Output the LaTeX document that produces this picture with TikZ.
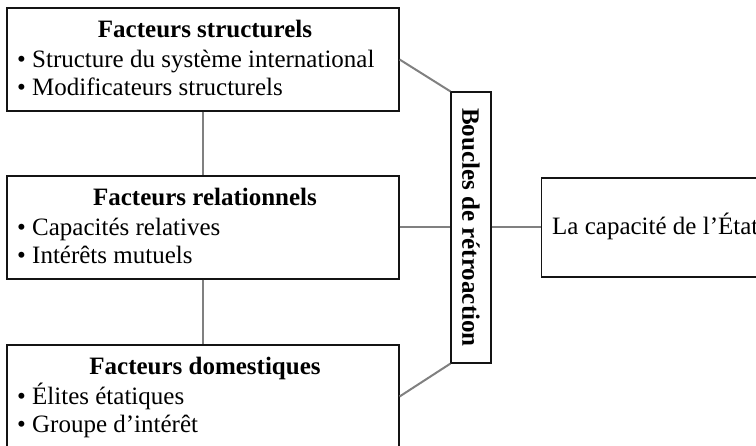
\documentclass[tikz,border=0pt]{standalone}
\usepackage{fontspec}
\setmainfont{Liberation Serif}
\definecolor{linkgray}{RGB}{128,128,128}
\definecolor{boxline}{RGB}{20,20,20}
\begin{document}
\begin{tikzpicture}[x=1pt,y=-1pt,
  box/.style={draw=boxline, line width=1.2pt, rectangle, inner sep=0pt, fill=white},
  link/.style={draw=linkgray, line width=2pt},
  txt/.style={font=\fontsize{25}{29}\selectfont, inner sep=0pt},
  head/.style={txt, font=\fontsize{25}{29}\selectfont\bfseries, anchor=base},
  item/.style={txt, anchor=base west}
]
\useasboundingbox (0,0) rectangle (756,446);
\clip (0,0) rectangle (756,446);
% boxes
\node[box, minimum width=392pt, minimum height=103pt] (s) at (203,59.5) {};
\node[box, minimum width=392pt, minimum height=103pt] (r) at (203,227.5) {};
\node[box, minimum width=392pt, minimum height=103pt] (d) at (203,396.5) {};
\node[box, minimum width=40pt, minimum height=271pt] (b) at (471,227.5) {};
\node[box, minimum width=260pt, minimum height=99pt, anchor=west] (c) at (541,227.5) {};
% connectors
\draw[link] (s.east) -- (b.north west);
\draw[link] (r.east) -- (b.west);
\draw[link] (d.east) -- (b.south west);
\draw[link] (b.east) -- (c.west);
\draw[link] (s.south) -- (r.north);
\draw[link] (r.south) -- (d.north);
% texts
\node[head] (sh) at (205,38) {Facteurs structurels};
\node[item] (s1) at (17,67.5) {• Structure du système international};
\node[item] (s2) at (17,96) {• Modificateurs structurels};
\node[head] (rh) at (205,206) {Facteurs relationnels};
\node[item] (r1) at (17,235.5) {• Capacités relatives};
\node[item] (r2) at (17,264) {• Intérêts mutuels};
\node[head] (dh) at (205,375) {Facteurs domestiques};
\node[item] (d1) at (17,404.5) {• Élites étatiques};
\node[item] (d2) at (17,433) {• Groupe d’intérêt};
\node[txt, font=\fontsize{25}{29}\selectfont\bfseries, rotate=-90] (bt) at (b.center) {Boucles de rétroaction};
\node[item] (ct) at (552,235) {La capacité de l’État};
\end{tikzpicture}
\end{document}
